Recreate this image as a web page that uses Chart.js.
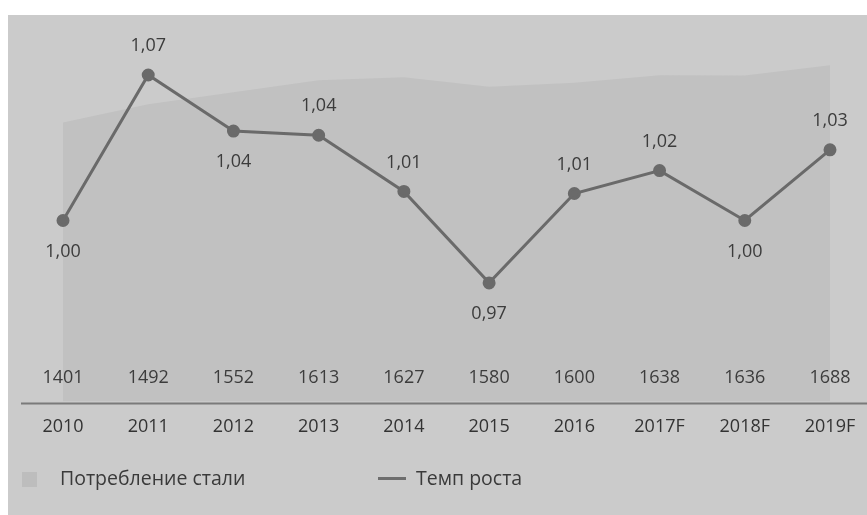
<!DOCTYPE html>
<html>
<head>
<meta charset="utf-8">
<script src="https://cdn.jsdelivr.net/npm/chart.js@4/dist/chart.umd.min.js"></script>
<style>
  html, body { margin: 0; padding: 0; background: #ffffff; width: 867px; height: 515px; overflow: hidden; }
  #wrap { position: absolute; left: 8px; top: 15px; width: 859px; height: 500px; background: #cbcbcb; }
  #c { display: block; }
  .leg { position: absolute; font-family: "Open Sans", sans-serif; font-size: 19.5px; color: #3a3a3a; line-height: 22px; }
  .box { position: absolute; width: 15px; height: 15px; background: #bdbdbd; }
  .ln { position: absolute; width: 28px; height: 3px; background: #6e6e6e; }
</style>
</head>
<body>
<div id="wrap">
  <canvas id="c" width="859" height="500"></canvas>
  <div class="box" style="left:14px; top:457px;"></div>
  <div class="leg" style="left:52px; top:452px;">Потребление стали</div>
  <div class="ln" style="left:370px; top:462px;"></div>
  <div class="leg" style="left:408px; top:452px;">Темп роста</div>
</div>
<script>
const categories = ["2010", "2011", "2012", "2013", "2014", "2015", "2016", "2017F", "2018F", "2019F"];
const steelConsumption = [1401, 1492, 1552, 1613, 1627, 1580, 1600, 1638, 1636, 1688];
const growthRate = [1.00, 1.07, 1.043, 1.041, 1.014, 0.97, 1.013, 1.024, 1.00, 1.034];
const growthLabelSide = ["below", "above", "below", "above", "above", "below", "above", "above", "below", "above"];

const fmt = v => v.toFixed(2).replace(".", ",");

const labelPlugin = {
  id: "customLabels",
  beforeDatasetsDraw(chart) {
    const ctx = chart.ctx;
    const area = chart.chartArea;
    ctx.save();
    ctx.strokeStyle = "#7a7a7a";
    ctx.lineWidth = 2;
    ctx.beginPath();
    ctx.moveTo(13, area.bottom + 2);
    ctx.lineTo(chart.width, area.bottom + 2);
    ctx.stroke();
    ctx.restore();
  },
  afterDatasetsDraw(chart) {
    const ctx = chart.ctx;
    const area = chart.chartArea;
    const xs = chart.scales.x;
    ctx.save();
    ctx.font = "18px 'Open Sans', sans-serif";
    ctx.fillStyle = "#3c3c3c";
    ctx.textAlign = "center";
    ctx.textBaseline = "middle";
    steelConsumption.forEach((v, i) => {
      ctx.fillText(String(v), xs.getPixelForValue(i), area.bottom - 24);
    });
    const meta = chart.getDatasetMeta(1);
    meta.data.forEach((pt, i) => {
      const dy = growthLabelSide[i] === "above" ? -29 : 31;
      ctx.fillText(fmt(growthRate[i]), pt.x, pt.y + dy);
    });
    ctx.restore();
  }
};

new Chart(document.getElementById("c"), {
  type: "line",
  data: {
    labels: categories,
    datasets: [
      {
        label: "Потребление стали",
        data: steelConsumption,
        yAxisID: "y",
        fill: "origin",
        backgroundColor: "#c1c1c1",
        borderWidth: 0,
        borderColor: "rgba(0,0,0,0)",
        pointRadius: 0,
        tension: 0,
        order: 2
      },
      {
        label: "Темп роста",
        data: growthRate,
        yAxisID: "y1",
        fill: false,
        borderColor: "#6a6a6a",
        borderWidth: 3,
        backgroundColor: "#6a6a6a",
        pointBackgroundColor: "#6a6a6a",
        pointBorderColor: "#6a6a6a",
        pointRadius: 5,
        tension: 0,
        order: 1
      }
    ]
  },
  options: {
    responsive: false,
    animation: false,
    devicePixelRatio: 1,
    layout: { padding: { left: 55, right: 37, top: 8, bottom: 73 } },
    plugins: {
      legend: { display: false },
      tooltip: { enabled: false }
    },
    scales: {
      x: {
        offset: false,
        grid: { display: false, drawTicks: true, tickLength: 11 },
        border: { display: false },
        ticks: {
          padding: 4,
          color: "#333333",
          font: { family: "'Open Sans', sans-serif", size: 18 },
          maxRotation: 0,
          autoSkip: false
        }
      },
      y: { display: false, min: 0, max: 1900 },
      y1: { display: false, min: 0.913, max: 1.095 }
    }
  },
  plugins: [labelPlugin]
});
</script>
</body>
</html>
